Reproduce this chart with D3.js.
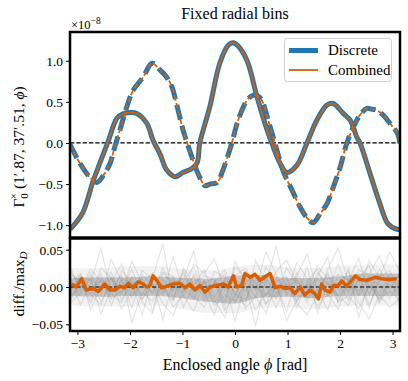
<!DOCTYPE html>
<html>
<head>
<meta charset="utf-8">
<script src="https://cdn.jsdelivr.net/npm/d3@7"></script>
<style>
  body { margin: 0; background: #fff; }
  svg text { font-family: "Liberation Serif", serif; fill: #000; }
</style>
</head>
<body>
<div id="chart"></div>
<script>
// ---- data (top panel values in units of 1e-8) ----
var solidPhi = [-3.14,-2.90,-2.70,-2.57,-2.42,-2.25,-2.15,-2.00,-1.87,-1.68,-1.56,-1.43,-1.30,-1.14,-0.99,-0.82,-0.72,-0.67,-0.48,-0.29,-0.13,-0.04,0.06,0.23,0.42,0.61,0.70,0.86,0.99,1.18,1.37,1.56,1.75,1.87,2.06,2.19,2.32,2.38,2.57,2.76,2.91,3.09,3.14];
var solidVal = [-1.05,-0.85,-0.46,-0.24,0.01,0.30,0.35,0.37,0.36,0.24,0.03,-0.13,-0.33,-0.41,-0.36,-0.31,-0.24,0.0,0.44,0.97,1.19,1.22,1.18,1.00,0.56,0.16,0.0,-0.25,-0.36,-0.27,0.0,0.28,0.46,0.48,0.36,0.28,0.07,0.0,-0.37,-0.74,-0.98,-1.05,-1.05];

var dashPhi = [-3.14,-2.95,-2.76,-2.63,-2.48,-2.38,-2.29,-2.19,-2.06,-1.94,-1.75,-1.58,-1.43,-1.30,-1.20,-1.10,-0.99,-0.91,-0.80,-0.67,-0.57,-0.48,-0.34,-0.23,-0.06,0.06,0.23,0.34,0.44,0.51,0.63,0.76,0.91,1.09,1.24,1.37,1.49,1.62,1.75,1.87,2.00,2.13,2.25,2.38,2.51,2.61,2.70,2.82,2.95,3.09,3.14];
var dashVal = [-0.02,-0.25,-0.42,-0.48,-0.37,-0.25,-0.05,0.16,0.44,0.64,0.80,0.97,0.89,0.80,0.68,0.44,0.16,0.0,-0.21,-0.42,-0.52,-0.50,-0.48,-0.33,0.0,0.28,0.52,0.58,0.57,0.52,0.28,0.0,-0.33,-0.58,-0.78,-0.91,-0.97,-0.86,-0.74,-0.54,-0.30,0.0,0.19,0.34,0.42,0.41,0.40,0.34,0.24,0.12,0.0];

// ---- data (bottom panel) ----
var diffPhi = [-3.11,-3.02,-2.92,-2.83,-2.70,-2.60,-2.48,-2.38,-2.29,-2.19,-2.10,-2.03,-1.94,-1.84,-1.75,-1.68,-1.62,-1.56,-1.49,-1.40,-1.30,-1.18,-1.05,-0.95,-0.86,-0.76,-0.67,-0.57,-0.48,-0.35,-0.22,-0.13,-0.03,0.03,0.13,0.19,0.29,0.38,0.48,0.60,0.67,0.76,0.86,0.95,1.05,1.14,1.24,1.33,1.43,1.52,1.59,1.65,1.71,1.81,1.87,1.97,2.03,2.13,2.29,2.38,2.51,2.67,2.79,2.92,3.08];
var diffVal = [0.004,0.0,0.011,-0.004,-0.002,-0.006,0.004,-0.004,-0.004,0.001,-0.001,0.005,-0.001,0.007,0.004,0.0,0.002,0.015,0.009,-0.001,0.001,0.004,0.005,-0.001,0.004,-0.004,0.002,-0.007,0.0,0.002,0.004,0.0,0.015,0.0,0.002,0.018,0.013,0.017,0.009,0.015,0.018,-0.001,0.001,-0.002,-0.001,-0.009,0.0,-0.011,-0.004,-0.009,-0.016,0.004,-0.004,-0.007,0.002,0.002,0.008,0.001,0.015,0.010,0.009,0.013,0.011,0.010,0.011];

// envelope of the grey realisations
var bandPhi = [-3.1416,-2.5,-2,-1.5,-1,-0.5,0,0.5,1,1.5,2,2.5,3.1416];
var coreHi = [0.012,0.013,0.013,0.014,0.012,0.011,0.015,0.016,0.012,0.012,0.014,0.018,0.018];
var coreLo = [-0.012,-0.013,-0.012,-0.012,-0.015,-0.020,-0.022,-0.014,-0.013,-0.015,-0.012,-0.012,-0.012];
var wideHi = [0.025,0.025,0.028,0.028,0.024,0.022,0.027,0.030,0.026,0.025,0.028,0.030,0.030];
var wideLo = [-0.025,-0.026,-0.026,-0.025,-0.030,-0.035,-0.035,-0.028,-0.027,-0.030,-0.026,-0.025,-0.025];

// a few of the grey realisations, sampled every 2pi/32
var greyLines = [
  [0.008,-0.012,0.015,-0.005,0.02,-0.018,0.004,0.011,-0.009,0.025,-0.004,0.006,-0.015,0.009,-0.022,0.003,0.012,-0.006,0.018,-0.011,0.007,0.014,-0.02,0.005,-0.008,0.016,-0.003,0.021,-0.012,0.009,0.004,-0.015,0.006],
  [-0.015,0.006,-0.022,0.012,-0.004,0.009,-0.028,0.016,0.003,-0.011,0.041,-0.006,0.014,-0.019,0.007,-0.031,-0.012,0.019,-0.004,0.011,-0.016,0.026,0.003,-0.021,0.012,-0.007,0.031,-0.005,0.017,-0.024,0.008,0.013,-0.01],
  [0.021,0.003,-0.009,0.018,-0.025,0.011,0.006,-0.038,0.013,0.002,-0.017,0.022,-0.008,0.005,0.012,-0.026,0.034,0.009,-0.014,0.027,0.004,-0.033,0.015,0.045,-0.006,0.019,-0.021,0.008,0.038,-0.011,0.024,-0.002,0.017],
  [-0.004,0.014,0.009,-0.019,0.006,0.031,-0.012,0.004,0.019,-0.008,0.013,-0.027,0.002,0.023,-0.014,0.008,-0.045,0.006,0.016,-0.022,-0.009,0.012,-0.028,0.007,0.024,-0.012,0.005,-0.018,0.011,0.029,-0.016,0.009,0.003],
  [0.012,-0.024,0.005,0.052,-0.009,-0.021,0.014,0.009,-0.032,0.018,0.006,0.011,0.048,-0.015,0.021,0.013,-0.008,-0.025,0.036,0.005,0.055,-0.012,0.019,-0.006,0.014,0.04,-0.019,0.011,0.007,-0.028,0.014,0.022,-0.007],
  [-0.009,0.017,-0.031,0.003,0.011,-0.007,0.024,-0.016,0.008,-0.044,0.009,-0.013,0.017,-0.006,-0.038,0.011,-0.021,0.005,-0.052,0.013,-0.009,0.004,-0.017,0.028,-0.035,0.006,-0.013,0.025,-0.041,0.009,-0.019,0.012,-0.024],
  [0.028,-0.006,0.019,-0.012,0.037,0.008,-0.015,0.022,0.011,0.058,-0.017,0.026,0.004,0.015,0.009,-0.019,0.027,0.012,-0.003,0.047,0.016,-0.009,0.033,0.011,-0.016,0.024,0.052,0.006,-0.01,0.035,0.013,0.047,0.02],
  [-0.022,-0.008,0.012,-0.036,-0.003,0.016,-0.048,-0.007,-0.019,0.005,-0.027,-0.011,-0.033,0.009,-0.017,-0.041,0.007,-0.029,-0.012,-0.035,0.004,-0.045,-0.018,0.002,-0.026,-0.009,-0.03,0.005,-0.021,-0.043,-0.011,-0.027,-0.015],
  [0.005,0.018,-0.004,0.009,-0.014,0.022,0.007,-0.011,0.016,-0.003,-0.019,0.008,0.027,-0.01,0.004,0.017,-0.013,0.021,0.006,-0.024,0.011,-0.002,0.009,-0.016,0.019,0.003,-0.011,-0.025,0.014,0.002,-0.009,0.018,0.005],
  [-0.011,-0.003,0.024,0.007,-0.016,-0.006,0.013,-0.021,-0.035,0.01,-0.005,0.018,-0.012,-0.027,0.006,0.023,-0.009,-0.017,0.01,0.003,-0.028,0.008,0.012,-0.014,-0.004,-0.031,0.017,0.009,-0.006,0.015,-0.022,0.004,-0.011],
  [0.016,0.009,-0.018,0.026,0.012,-0.011,0.035,0.004,-0.007,0.02,0.014,-0.009,0.031,0.018,0.038,-0.004,0.015,0.025,0.002,-0.012,0.021,0.036,0.006,-0.003,0.028,0.011,0.016,-0.008,0.023,0.017,0.042,0.008,0.016],
  [-0.018,0.002,-0.01,-0.024,0.013,-0.03,-0.005,-0.017,0.004,-0.022,-0.038,-0.002,-0.016,0.006,-0.025,-0.011,-0.019,0.004,-0.031,-0.008,-0.014,0.003,-0.022,-0.037,-0.01,0.007,-0.02,-0.012,-0.029,0.002,-0.016,-0.006,-0.018]
];

var topTicks = [-1.0,-0.5,0.0,0.5,1.0];
var botTicks = [-0.05,0.0,0.05];
var xTicks = [-3,-2,-1,0,1,2,3];

var blue = "#1f77b4";
var orange = "#d95f02";
var serif = "'Liberation Serif', 'DejaVu Serif', serif";

var width = 408, height = 381;
var svg = d3.select("#chart").append("svg")
            .attr("width", width)
            .attr("height", height);

var left = 70, right = 400;
var top1 = 32, bot1 = 237.5, top2 = 238.5, bot2 = 331;

var x = d3.scaleLinear().domain([-Math.PI, Math.PI]).range([left, right]);
var yTop = d3.scaleLinear().domain([-1.15, 1.35]).range([bot1, top1]);
var yBot = d3.scaleLinear().domain([-0.059, 0.065]).range([bot2, top2]);

var defs = svg.append("defs");
defs.append("clipPath").attr("id", "clipTop").append("rect")
    .attr("x", left).attr("y", top1).attr("width", right - left).attr("height", bot1 - top1);
defs.append("clipPath").attr("id", "clipBot").append("rect")
    .attr("x", left).attr("y", top2).attr("width", right - left).attr("height", bot2 - top2);

// ---------- top panel ----------
var gTop = svg.append("g").attr("clip-path", "url(#clipTop)");

gTop.append("line")
    .attr("x1", left).attr("x2", right)
    .attr("y1", yTop(0)).attr("y2", yTop(0))
    .style("stroke", "#000").style("stroke-width", 1.2)
    .style("stroke-dasharray", "4.4,1.9");

var lineTop = d3.line()
    .x(function(d) { return x(d[0]); })
    .y(function(d) { return yTop(d[1]); })
    .curve(d3.curveCatmullRom.alpha(0.5));

var solid = d3.zip(solidPhi, solidVal);
var dashed = d3.zip(dashPhi, dashVal);

// discrete (thick blue), combined (thin orange) on top
gTop.append("path").datum(solid).attr("d", lineTop)
    .style("fill", "none").style("stroke", blue).style("stroke-width", 5);
gTop.append("path").datum(dashed).attr("d", lineTop)
    .style("fill", "none").style("stroke", blue).style("stroke-width", 5)
    .style("stroke-dasharray", "15,6");
gTop.append("path").datum(solid).attr("d", lineTop)
    .style("fill", "none").style("stroke", orange).style("stroke-width", 1.8);
gTop.append("path").datum(dashed).attr("d", lineTop)
    .style("fill", "none").style("stroke", orange).style("stroke-width", 1.8)
    .style("stroke-dasharray", "5.5,2.4");

// y axis top
var axTop = svg.append("g").attr("transform", "translate(" + left + ",0)")
    .call(d3.axisLeft(yTop).tickValues(topTicks).tickSize(4).tickPadding(3)
          .tickFormat(function(d) { return d3.format(".1f")(d).replace("-", "\u2212"); }));
axTop.select(".domain").remove();

svg.append("rect")
    .attr("x", left).attr("y", top1).attr("width", right - left).attr("height", bot1 - top1)
    .style("fill", "none").style("stroke", "#000").style("stroke-width", 2.5);

// legend
var leg = svg.append("g");
leg.append("rect")
    .attr("x", 284.5).attr("y", 38.5).attr("width", 107).attr("height", 43).attr("rx", 3)
    .style("fill", "#fff").style("fill-opacity", 0.8)
    .style("stroke", "#d0d0d0").style("stroke-width", 1);
var legItems = [["Discrete", blue, 5], ["Combined", orange, 1.8]];
legItems.forEach(function(it, i) {
  var yy = 50.5 + i * 19.5;
  leg.append("line").attr("x1", 289).attr("x2", 318).attr("y1", yy).attr("y2", yy)
     .style("stroke", it[1]).style("stroke-width", it[2]);
  leg.append("text").attr("x", 328).attr("y", yy + 4.5)
     .style("font-size", "15px").text(it[0]);
});

// ---------- bottom panel ----------
var gBot = svg.append("g").attr("clip-path", "url(#clipBot)");

var areaBand = function(hi, lo) {
  return d3.area()
    .x(function(d, i) { return x(bandPhi[i]); })
    .y0(function(d, i) { return yBot(lo[i]); })
    .y1(function(d, i) { return yBot(hi[i]); })
    .curve(d3.curveMonotoneX);
};
gBot.append("path").datum(bandPhi).attr("d", areaBand(wideHi, wideLo))
    .style("fill", "#aaaaaa").style("fill-opacity", 0.15);
gBot.append("path").datum(bandPhi).attr("d", areaBand(coreHi, coreLo))
    .style("fill", "#909090").style("fill-opacity", 0.45);

var greyLine = d3.line()
    .x(function(d, i) { return x(-Math.PI + i * 2 * Math.PI / 32); })
    .y(function(d) { return yBot(d); });
gBot.selectAll("path.grey")
    .data(greyLines)
    .enter()
    .append("path")
    .attr("class", "grey")
    .attr("d", greyLine)
    .style("fill", "none").style("stroke", "#808080")
    .style("stroke-opacity", 0.2).style("stroke-width", 1.2);

gBot.append("line")
    .attr("x1", left).attr("x2", right)
    .attr("y1", yBot(0)).attr("y2", yBot(0))
    .style("stroke", "#000").style("stroke-width", 1.2)
    .style("stroke-dasharray", "4.4,1.9");

var lineBot = d3.line()
    .x(function(d) { return x(d[0]); })
    .y(function(d) { return yBot(d[1]); });
gBot.append("path").datum(d3.zip(diffPhi, diffVal)).attr("d", lineBot)
    .style("fill", "none").style("stroke", orange).style("stroke-width", 3.5)
    .style("stroke-linejoin", "round");

var axBotY = svg.append("g").attr("transform", "translate(" + left + ",0)")
    .call(d3.axisLeft(yBot).tickValues(botTicks).tickSize(4).tickPadding(3)
          .tickFormat(function(d) { return d3.format(".2f")(d).replace("-", "\u2212"); }));
axBotY.select(".domain").remove();

var axBotX = svg.append("g").attr("transform", "translate(0," + bot2 + ")")
    .call(d3.axisBottom(x).tickValues(xTicks).tickSize(4).tickPadding(3)
          .tickFormat(function(d) { return String(d).replace("-", "\u2212"); }));
axBotX.select(".domain").remove();

svg.append("rect")
    .attr("x", left).attr("y", top2).attr("width", right - left).attr("height", bot2 - top2)
    .style("fill", "none").style("stroke", "#000").style("stroke-width", 2.5);

svg.selectAll(".tick text")
    .attr("font-family", serif).style("font-family", serif)
    .style("font-size", "13.5px").style("fill", "#000");
svg.selectAll(".tick line").style("stroke", "#000").style("stroke-width", 1);

// ---------- labels ----------
svg.append("text").attr("x", 235).attr("y", 19).attr("text-anchor", "middle")
   .style("font-size", "16px").text("Fixed radial bins");

var sci = svg.append("text").attr("x", 71).attr("y", 29).style("font-size", "12.5px");
sci.append("tspan").text("\u00d710");
sci.append("tspan").attr("dy", -5).style("font-size", "9.5px").text("\u22128");

var yl = svg.append("text")
    .attr("transform", "translate(24,147) rotate(-90)")
    .attr("text-anchor", "middle").style("font-size", "15.5px");
yl.append("tspan").text("\u0393");
yl.append("tspan").attr("dy", 4).style("font-size", "11px").text("0");
yl.append("tspan").attr("dx", -6).attr("dy", -11).style("font-size", "11px").text("\u00d7");
yl.append("tspan").attr("dy", 7).text(" (1\u2032.87, 37\u2032.51, ");
yl.append("tspan").style("font-style", "italic").text("\u03d5");
yl.append("tspan").text(")");

var yl2 = svg.append("text")
    .attr("transform", "translate(24,284) rotate(-90)")
    .attr("text-anchor", "middle").style("font-size", "15.5px");
yl2.append("tspan").text("diff./max");
yl2.append("tspan").attr("dy", 3).style("font-size", "11px").style("font-style", "italic").text("D");

var xl = svg.append("text").attr("x", 235).attr("y", 370).attr("text-anchor", "middle")
   .style("font-size", "16px");
xl.append("tspan").text("Enclosed angle ");
xl.append("tspan").style("font-style", "italic").text("\u03d5");
xl.append("tspan").text(" [rad]");

svg.selectAll("text").attr("font-family", serif).style("font-family", serif);
</script>
</body>
</html>
